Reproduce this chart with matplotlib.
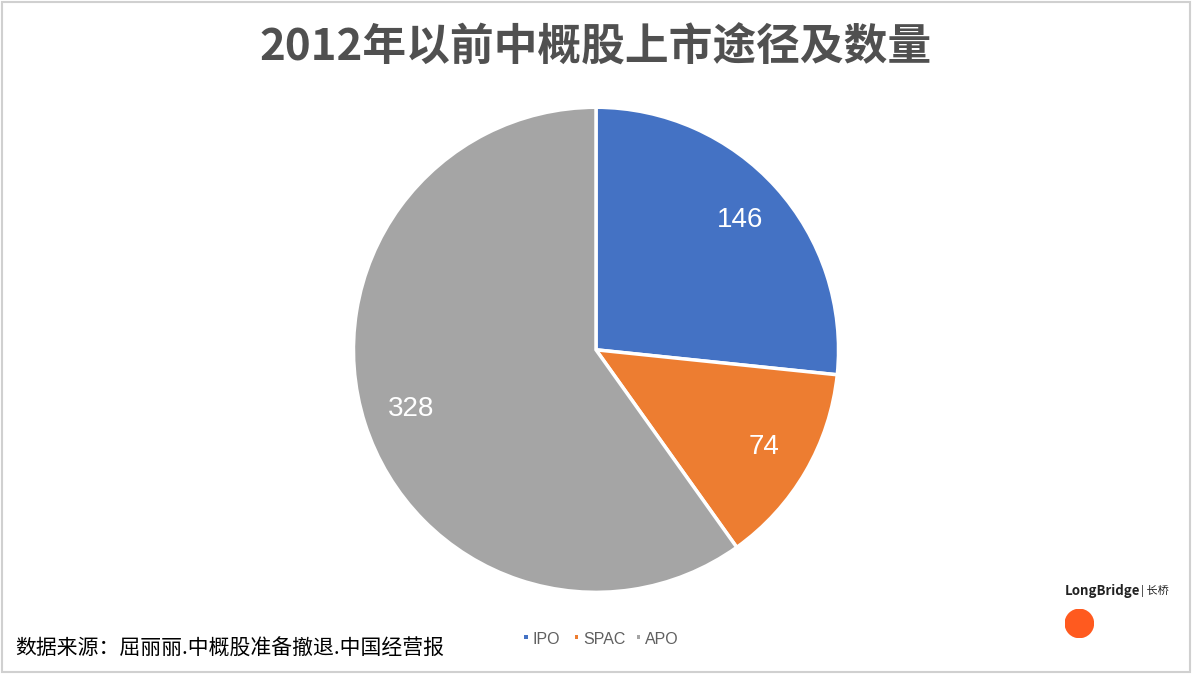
import numpy as np
import matplotlib.pyplot as plt
from matplotlib.patches import Rectangle, Circle

plt.rcParams['font.family'] = ['Noto Sans CJK SC', 'DejaVu Sans']

labels = ['IPO', 'SPAC', 'APO']
values = [146, 74, 328]
colors = ['#4472C4', '#ED7D31', '#A5A5A5']

fig = plt.figure(figsize=(11.92, 6.74), dpi=100)
fig.patches.append(Rectangle((0.002, 0.003), 0.996, 0.994, transform=fig.transFigure,
                             fill=False, edgecolor='#D0D0D0', linewidth=1.5))

ax = fig.add_axes([0.5 - 0.2055, 0.481 - 0.3635, 0.411, 0.727])
wedges, texts = ax.pie(values, colors=colors, startangle=90, counterclock=False,
                       wedgeprops=dict(edgecolor='white', linewidth=2.5))
ax.set_xlim(-1.01, 1.01)
ax.set_ylim(-1.01, 1.01)
ax.set_aspect('equal')
for w, v in zip(wedges, values):
    ang = np.deg2rad((w.theta1 + w.theta2) / 2)
    ax.text(0.8 * np.cos(ang), 0.8 * np.sin(ang), str(v), ha='center', va='center',
            color='white', fontsize=20, family='Liberation Sans')

fig.text(0.5, 0.93, '2012年以前中概股上市途径及数量', ha='center', va='center',
         fontsize=31.5, fontweight='bold', color='#505050')
fig.text(0.013, 0.038, '数据来源：屈丽丽.中概股准备撤退.中国经营报', ha='left', va='center',
         fontsize=15, color='black')

# legend
lx = [0.44, 0.482, 0.534]
for x, lab, c in zip(lx, labels, colors):
    fig.patches.append(Rectangle((x, 0.052), 0.003, 0.006, transform=fig.transFigure,
                                 facecolor=c, edgecolor='none'))
    fig.text(x + 0.007, 0.051, lab, ha='left', va='center', fontsize=11.5,
             color='#606060', family='Liberation Sans')

# logo
fig.text(0.893, 0.123, 'LongBridge', ha='left', va='center', fontsize=9.5,
         color='#222222', fontweight='bold')
fig.text(0.957, 0.123, '| 长桥', ha='left', va='center', fontsize=8, color='#222222')
lax = fig.add_axes([0.893, 0.053, 0.025, 0.044])
lax.add_patch(Circle((0.5, 0.5), 0.5, facecolor='#FF5A1F', edgecolor='none'))
lax.set_xlim(0, 1)
lax.set_ylim(0, 1)
lax.set_aspect('equal')
lax.axis('off')

fig.savefig('out.png', dpi=100)
